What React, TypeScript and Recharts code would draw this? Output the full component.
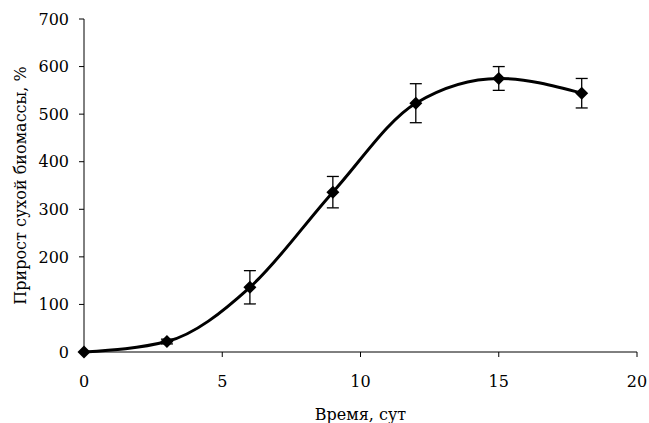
import { ErrorBar, Label, Line, LineChart, XAxis, YAxis } from "recharts";

// Сутки отбора проб
const DAYS = [0, 3, 6, 9, 12, 15, 18];
// Прирост сухой биомассы, %
const GROWTH = [0, 22, 136, 336, 523, 575, 544];
// Доверительный интервал
const ERRORS = [0, 5, 35, 33, 41, 25, 31];

const X_TICKS = [0, 5, 10, 15, 20];
const Y_TICKS = [0, 100, 200, 300, 400, 500, 600, 700];

const FONT = "DejaVu Serif";
const FONT_SIZE = 16;

const rows = DAYS.map((day, i) => ({ day, growth: GROWTH[i], err: ERRORS[i] }));

// Маркер-ромб, как в исходном графике
function Diamond(props: any) {
  const { cx, cy, index } = props;
  if (cx == null || cy == null) return <g key={`d-${index}`} />;
  const r = 6.5;
  return (
    <polygon
      key={`d-${index}`}
      points={`${cx},${cy - r} ${cx + r},${cy} ${cx},${cy + r} ${cx - r},${cy}`}
      fill="#000"
      stroke="none"
    />
  );
}

export default function App() {
  const tick = { fontSize: FONT_SIZE, fill: "#000", fontFamily: FONT };

  return (
    <div
      style={{
        position: "absolute",
        left: 0,
        top: 0,
        width: 649,
        height: 423,
        background: "#fff",
      }}
    >
      <LineChart
        width={649}
        height={423}
        data={rows}
        margin={{ top: 19, right: 12, left: 0, bottom: 0 }}
      >
        <XAxis
          type="number"
          dataKey="day"
          domain={[0, 20]}
          ticks={X_TICKS}
          height={71}
          tickSize={5}
          tickMargin={19}
          tick={tick}
          stroke="#000"
          axisLine={{ stroke: "#000" }}
          tickLine={{ stroke: "#000" }}
        >
          <Label
            value="Время, сут"
            position="insideBottom"
            offset={3}
            fontFamily={FONT}
            fontSize={FONT_SIZE}
            fill="#000"
          />
        </XAxis>
        <YAxis
          type="number"
          domain={[0, 700]}
          ticks={Y_TICKS}
          width={84}
          tickSize={5}
          tickMargin={10}
          tick={tick}
          stroke="#000"
          axisLine={{ stroke: "#000" }}
          tickLine={{ stroke: "#000" }}
        >
          <Label
            value="Прирост сухой биомассы, %"
            angle={-90}
            position="insideLeft"
            offset={20}
            fontFamily={FONT}
            fontSize={FONT_SIZE}
            fill="#000"
            textAnchor="middle"
          />
        </YAxis>
        <Line
          type="monotone"
          dataKey="growth"
          stroke="#000"
          strokeWidth={3}
          dot={Diamond}
          activeDot={false}
          isAnimationActive={false}
        >
          <ErrorBar dataKey="err" width={6} stroke="#000" strokeWidth={1.3} direction="y" />
        </Line>
      </LineChart>
    </div>
  );
}
